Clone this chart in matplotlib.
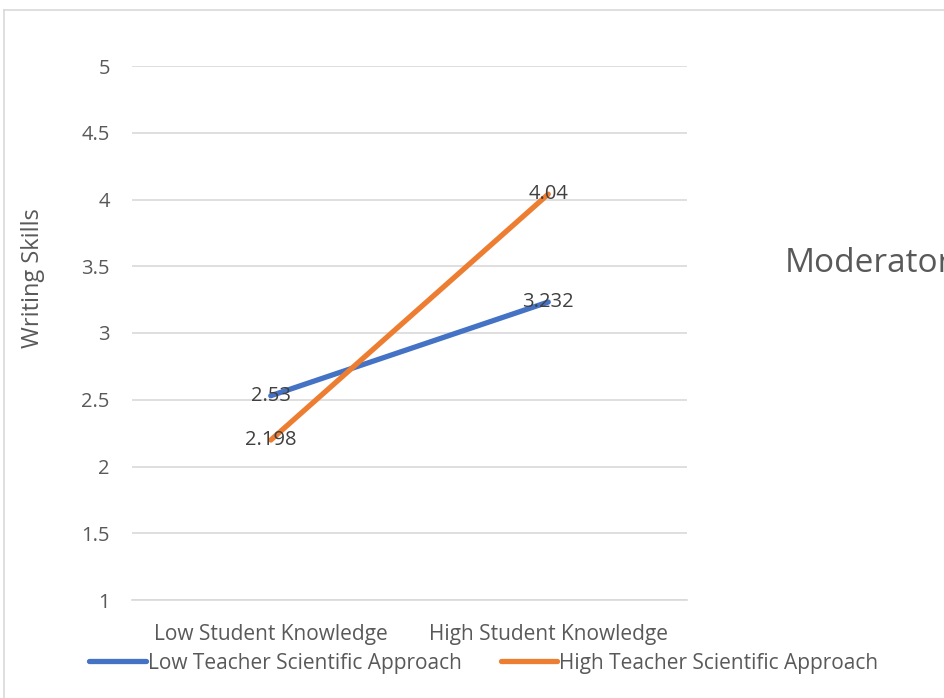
import matplotlib.pyplot as plt
from matplotlib.lines import Line2D

plt.rcParams['font.family'] = ['Open Sans', 'DejaVu Sans']

categories = ['Low Student Knowledge', 'High Student Knowledge']
low_teacher = [2.53, 3.232]
high_teacher = [2.198, 4.04]
series_names = ['Low Teacher Scientific Approach', 'High Teacher Scientific Approach']
yticks = [1, 1.5, 2, 2.5, 3, 3.5, 4, 4.5, 5]

blue = '#4472C4'
orange = '#ED7D31'
text_col = '#595959'
grid_col = '#D9D9D9'
fs = 15

fig = plt.figure(figsize=(9.44, 6.98), dpi=100)
ax = fig.add_axes([132 / 944, 1 - 600 / 698, 555 / 944, 534 / 698])

x = list(range(len(categories)))
ax.plot(x, low_teacher, color=blue, lw=3.8, solid_capstyle='round', label=series_names[0], zorder=3)
ax.plot(x, high_teacher, color=orange, lw=3.8, solid_capstyle='round', label=series_names[1], zorder=3)

for xs, ys in [(x, low_teacher), (x, high_teacher)]:
    for xi, yi in zip(xs, ys):
        ax.text(xi, yi, f'{yi:g}', ha='center', va='center', fontsize=14.5, color='#404040', zorder=4)

ax.set_xlim(-0.5, 1.5)
ax.set_ylim(1, 5)
ax.set_yticks(yticks)
ax.set_yticklabels([f'{v:g}' for v in yticks])
ax.set_xticks(x)
ax.set_xticklabels(categories)
ax.grid(axis='y', color=grid_col, lw=1.2)
ax.set_axisbelow(True)
for s in ax.spines.values():
    s.set_visible(False)
ax.spines['bottom'].set_visible(True)
ax.spines['bottom'].set_color(grid_col)
ax.spines['bottom'].set_linewidth(1.2)
ax.tick_params(axis='both', length=0, labelsize=fs, labelcolor=text_col)
ax.tick_params(axis='y', labelsize=14.5, pad=16)
ax.tick_params(axis='x', pad=17)

# axis title sits above the axis centre in the original, so place it by hand
fig.text(33 / 944, 1 - 278 / 698, 'Writing Skills', fontsize=17, color=text_col,
         rotation=90, ha='center', va='center')

fig.text(785 / 944, 1 - 263 / 698, 'Moderator', fontsize=24, color=text_col, va='center', ha='left')

fig.legend(loc='center', bbox_to_anchor=(484 / 944, 1 - 663 / 698), ncol=2, frameon=False,
           fontsize=fs, labelcolor=text_col, handlelength=2.7, handletextpad=0.1, columnspacing=1.9)

# chart border
fig.add_artist(Line2D([4 / 944, 4 / 944], [0, 1 - 10 / 698], color='#D9D9D9', lw=1.2))
fig.add_artist(Line2D([4 / 944, 1], [1 - 10 / 698, 1 - 10 / 698], color='#D9D9D9', lw=1.2))

fig.savefig('out.png', dpi=100)
